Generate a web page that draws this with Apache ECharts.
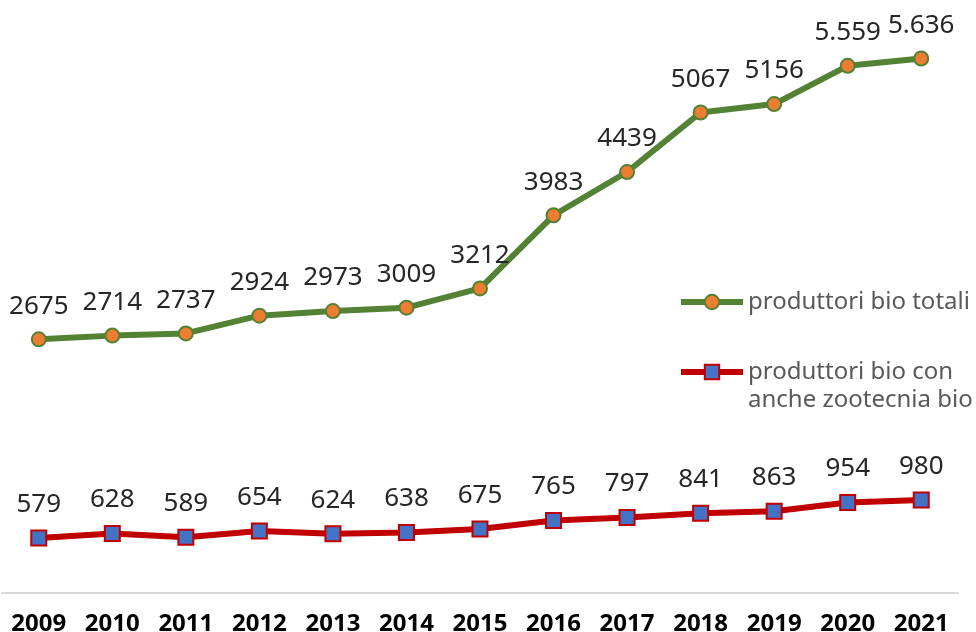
<!DOCTYPE html>
<html>
<head>
    <meta charset="utf-8">
    <title>produttori bio</title>
    <script type="text/javascript" src="https://cdn.jsdelivr.net/npm/echarts@6/dist/echarts.min.js"></script>
</head>
<body style="margin:0;background:#fff;">
<div id="chartmain" style="width:976px; height:632px;"></div>

<script type="text/javascript">
    // dati
    var anni = ['2009','2010','2011','2012','2013','2014','2015','2016','2017','2018','2019','2020','2021'];
    var totali = [2675, 2714, 2737, 2924, 2973, 3009, 3212, 3983, 4439, 5067, 5156, 5559, 5636];
    var totaliEtichette = ['2675','2714','2737','2924','2973','3009','3212','3983','4439','5067','5156','5.559','5.636'];
    var zootecnia = [579, 628, 589, 654, 624, 638, 675, 765, 797, 841, 863, 954, 980];

    var nomeTotali = 'produttori bio totali';
    var nomeZoo = 'produttori bio con anche zootecnia bio';

    var legendaBase = {
        left: 678,
        orient: 'vertical',
        padding: 0,
        itemWidth: 62,
        itemHeight: 18,
        lineStyle: { width: 6 },
        textStyle: { fontSize: 24, color: '#595959' }
    };

    var option = {
        animation: false,
        textStyle: { fontFamily: 'Noto Sans' },
        grid: { left: 2, right: 18, top: 24, bottom: 39, outerBoundsMode: 'none', containLabel: false },
        legend: [
            Object.assign({}, legendaBase, { data: [nomeTotali], top: 290 }),
            Object.assign({}, legendaBase, {
                data: [nomeZoo],
                top: 360,
                formatter: function () { return 'produttori bio con'; }
            })
        ],
        graphic: [{
            type: 'text',
            left: 748,
            top: 388,
            style: { text: 'anche zootecnia bio', fontSize: 24, fontFamily: 'Noto Sans', fill: '#595959' }
        }],
        xAxis: {
            type: 'category',
            data: anni,
            axisLine: { lineStyle: { color: '#d9d9d9', width: 2 } },
            axisTick: { show: false },
            axisLabel: { interval: 0, fontSize: 24, fontWeight: 'bold', color: '#000', margin: 19 }
        },
        yAxis: {
            type: 'value',
            min: 0,
            max: 6000,
            show: false
        },
        series: [{
            name: nomeTotali,
            type: 'line',
            data: totali,
            symbol: 'circle',
            symbolSize: 14,
            lineStyle: { color: '#548235', width: 6 },
            itemStyle: { color: '#ed7d31', borderColor: '#548235', borderWidth: 2 },
            label: {
                show: true,
                position: 'top',
                distance: 12,
                fontSize: 26,
                color: '#262626',
                formatter: function (p) { return totaliEtichette[p.dataIndex]; }
            }
        }, {
            name: nomeZoo,
            type: 'line',
            data: zootecnia,
            symbol: 'rect',
            symbolSize: 15,
            lineStyle: { color: '#c00000', width: 6 },
            itemStyle: { color: '#4472c4', borderColor: '#c00000', borderWidth: 2 },
            label: {
                show: true,
                position: 'top',
                distance: 12,
                fontSize: 26,
                color: '#262626'
            }
        }]
    };
    var myChart = echarts.init(document.getElementById('chartmain'));
    myChart.setOption(option);
</script>
</body>
</html>
